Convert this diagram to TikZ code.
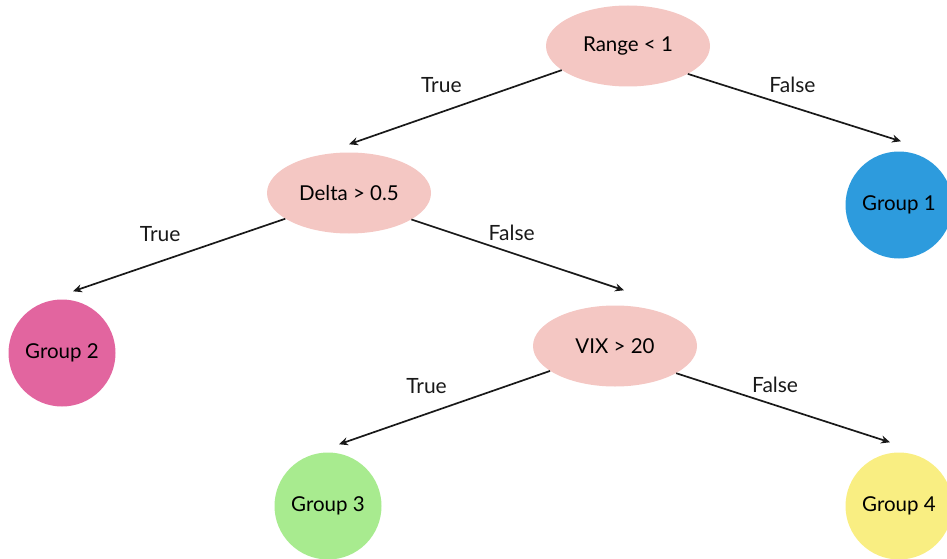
\documentclass[tikz,border=0pt]{standalone}
\usepackage{fontspec}
\setmainfont{Lato}
\usetikzlibrary{positioning}
\usetikzlibrary{arrows.meta}
\usetikzlibrary{shapes.geometric}
\usetikzlibrary{calc}

\definecolor{splitpink}{HTML}{F4C7C3}
\definecolor{grpblue}{HTML}{2D9BDD}
\definecolor{grpmagenta}{HTML}{E2659F}
\definecolor{grpgreen}{HTML}{A8EB8F}
\definecolor{grpyellow}{HTML}{F9EE82}

\tikzset{
	split/.style={ellipse, fill=splitpink, minimum width=164pt, minimum height=81pt, inner sep=0pt},
	leaf/.style={circle, minimum size=107pt, inner sep=0pt},
	branch/.style={-{Stealth[length=9pt,width=8pt]}, line width=1.7pt, black!90},
	lbl/.style={font=\fontsize{21}{24}\selectfont, text=black!90}
}

\begin{document}
\begin{tikzpicture}[x=1pt, y=-1pt, font=\fontsize{20.5}{24}\selectfont]
	 \useasboundingbox (0,0) rectangle (947,559);
	 \clip (0,0) rectangle (947,559);

	 % split nodes
	 \node[split] (range) at (628,46) {Range < 1};
	 \node[split] (delta) at (349,193) {Delta > 0.5};
	 \node[split] (vix) at (615,346) {VIX > 20};

	 % leaves
	 \node[leaf, fill=grpblue] (g1) at (899,205) {Group 1};
	 \node[leaf, fill=grpmagenta] (g2) at (62,353) {Group 2};
	 \node[leaf, fill=grpgreen] (g3) at (328,506) {Group 3};
	 \node[leaf, fill=grpyellow] (g4) at (899,506) {Group 4};

	 % branches
	 \draw[branch] (range.200) -- node[lbl, midway, shift={(-14pt,22pt)}] {True} ([yshift=8pt]delta.north);
	 \draw[branch] (range.-25) -- node[lbl, midway, shift={(-2pt,23pt)}] {False} ([shift={(2pt,10pt)}]g1.north);
	 \draw[branch] (delta.202) -- node[lbl, midway, shift={(-19pt,21pt)}] {True} ([shift={(11pt,8pt)}]g2.north);
	 \draw[branch] (delta.-23.6) -- node[lbl, midway, shift={(-6pt,22pt)}] {False} ([shift={(9pt,15pt)}]vix.north);
	 \draw[branch] (vix.201.5) -- node[lbl, midway, shift={(-18pt,22pt)}] {True} ([shift={(11pt,8pt)}]g3.north);
	 \draw[branch] (vix.-24.8) -- node[lbl, midway, shift={(-8pt,23pt)}] {False} ([shift={(-9pt,10pt)}]g4.north);
\end{tikzpicture}
\end{document}
